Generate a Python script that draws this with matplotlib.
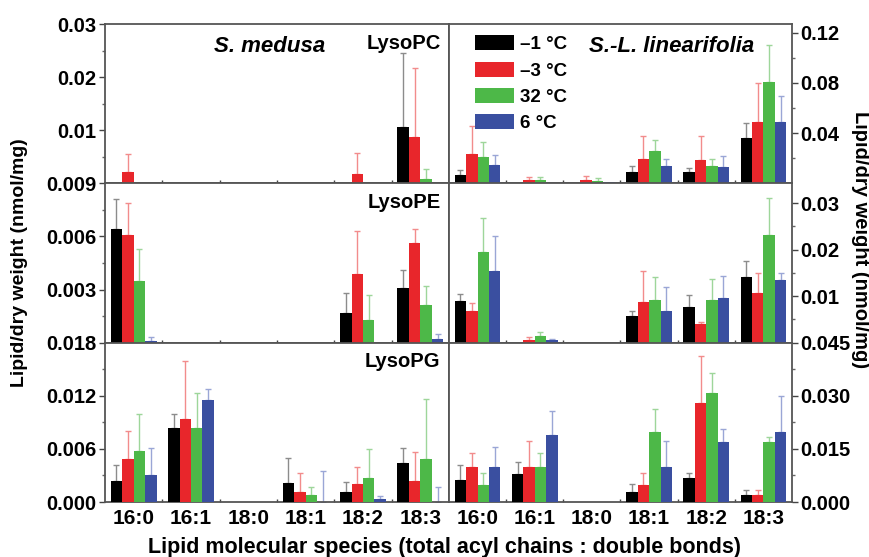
import matplotlib.pyplot as plt
import numpy as np
from matplotlib.patches import Patch

plt.rcParams["font.family"] = ["Liberation Sans", "DejaVu Sans"]
plt.rcParams["font.weight"] = "bold"

SPECIES = ["16:0", "16:1", "18:0", "18:1", "18:2", "18:3"]
TEMPS = ["\u20131 \u00b0C", "\u20133 \u00b0C", "32 \u00b0C", "6 \u00b0C"]
COLORS = ["#000000", "#e8262b", "#4db848", "#3a4fa0"]
ERR_COLORS = ["#8c8c8c", "#f28c8c", "#9ed69a", "#9aa6d6"]

# S. medusa, rows = temperatures (-1, -3, 32, 6), columns = species
medusa_pc = [[0, 0, 0, 0, 0, 0.0106],
             [0.0021, 0, 0, 0, 0.0017, 0.0087],
             [0, 0, 0, 0, 0, 0.0009],
             [0, 0, 0, 0, 0, 0]]
medusa_pc_top = [[0, 0, 0, 0, 0, 0.0245],
                 [0.0055, 0, 0, 0, 0.0057, 0.0217],
                 [0, 0, 0, 0, 0, 0.0026],
                 [0, 0, 0, 0, 0, 0]]
medusa_pe = [[0.0064, 0, 0, 0, 0.0017, 0.0031],
             [0.0061, 0, 0, 0, 0.0039, 0.0056],
             [0.0035, 0, 0, 0, 0.0013, 0.0021],
             [0.0001, 0, 0, 0, 0, 0.0002]]
medusa_pe_top = [[0.0081, 0, 0, 0, 0.0028, 0.0041],
                 [0.0079, 0, 0, 0, 0.0063, 0.0064],
                 [0.0053, 0, 0, 0, 0.0027, 0.0032],
                 [0.0003, 0, 0, 0, 0, 0.0005]]
medusa_pg = [[0.0024, 0.0084, 0, 0.0021, 0.0011, 0.0044],
             [0.0049, 0.0094, 0, 0.0011, 0.0020, 0.0024],
             [0.0058, 0.0084, 0, 0.0008, 0.0027, 0.0049],
             [0.0031, 0.0115, 0, 0, 0.0003, 0]]
medusa_pg_top = [[0.0042, 0.0099, 0, 0.0050, 0.0023, 0.0061],
                 [0.0080, 0.0159, 0, 0.0033, 0.0040, 0.0056],
                 [0.0099, 0.0123, 0, 0.0017, 0.0060, 0.0116],
                 [0.0061, 0.0128, 0, 0.0035, 0.0007, 0.0017]]

# S.-L. linearifolia
linear_pc = [[0.007, 0.0005, 0, 0.009, 0.009, 0.0365],
             [0.023, 0.003, 0.003, 0.0192, 0.0184, 0.049],
             [0.021, 0.003, 0.002, 0.0256, 0.0139, 0.081],
             [0.0144, 0.0005, 0.001, 0.0139, 0.013, 0.049]]
linear_pc_top = [[0.011, 0, 0, 0.0139, 0.0123, 0.0483],
                 [0.0456, 0.005, 0.006, 0.0376, 0.0376, 0.0797],
                 [0.033, 0.005, 0.004, 0.0344, 0.0197, 0.110],
                 [0.0224, 0, 0, 0.0192, 0.0216, 0.0696]]
linear_pe = [[0.0089, 0, 0, 0.0057, 0.0077, 0.0142],
             [0.0067, 0.0006, 0, 0.0088, 0.0040, 0.0106],
             [0.0196, 0.0014, 0, 0.0091, 0.0091, 0.0231],
             [0.0155, 0.0005, 0, 0.0068, 0.0096, 0.0135]]
linear_pe_top = [[0.0104, 0, 0, 0.0068, 0.0103, 0.0176],
                 [0.0086, 0.0013, 0, 0.0154, 0.0044, 0.0150],
                 [0.0268, 0.0023, 0, 0.0142, 0.0137, 0.0312],
                 [0.0230, 0.0008, 0, 0.0120, 0.0143, 0.0150]]
linear_pg = [[0.0063, 0.0079, 0, 0.0027, 0.0069, 0.0019],
             [0.0100, 0.0100, 0, 0.0049, 0.0280, 0.0019],
             [0.0049, 0.0100, 0, 0.0199, 0.0308, 0.0169],
             [0.0100, 0.0189, 0, 0.0100, 0.0169, 0.0199]]
linear_pg_top = [[0.0105, 0.0112, 0, 0.0051, 0.0082, 0.0033],
                 [0.0138, 0.0173, 0, 0.0083, 0.0411, 0.0034],
                 [0.0083, 0.0138, 0, 0.0263, 0.0363, 0.0184],
                 [0.0154, 0.0258, 0, 0.0172, 0.0206, 0.0299]]

W, H = 870, 557
fig = plt.figure(figsize=(W / 100, H / 100), dpi=100)

x_left, x_mid, x_right = 105, 449, 792
y_rows = [24, 183.3, 342.6, 502]


def make_ax(col, row):
    x0 = x_left if col == 0 else x_mid
    x1 = x_mid if col == 0 else x_right
    return fig.add_axes([x0 / W, 1 - y_rows[row + 1] / H,
                         (x1 - x0) / W, (y_rows[row + 1] - y_rows[row]) / H])


def draw_panel(ax, vals, tops, ylim, ticks, labels, minors, side):
    x = np.arange(len(SPECIES)) + 0.5
    width = 0.2
    for i in range(4):
        v = np.array(vals[i])
        t = np.array(tops[i])
        pos = x + (i - 1.5) * width
        ax.bar(pos, v, width, color=COLORS[i], zorder=3)
        err = np.clip(t - v, 0, None)
        m = t > 0
        ax.errorbar(pos[m], v[m], yerr=[np.zeros(m.sum()), err[m]],
                    fmt="none", ecolor=ERR_COLORS[i], elinewidth=1,
                    capsize=2, capthick=1, zorder=2)
    ax.set_xlim(0, 6)
    ax.set_ylim(*ylim)
    ax.set_xticks(np.arange(1, 6))
    ax.set_xticklabels([])
    ax.tick_params(axis="x", which="major", direction="in", length=2,
                   width=1, color="#444444")
    ax.set_yticks(ticks)
    ax.set_yticklabels(labels)
    ax.set_yticks(minors, minor=True)
    if side == "right":
        ax.yaxis.tick_right()
        ax.yaxis.set_ticks_position("right")
    ax.tick_params(axis="y", which="major", direction="out", length=4,
                   width=1, labelsize=14.5, color="#444444", pad=2)
    ax.tick_params(axis="y", which="minor", direction="out", length=2,
                   width=1, color="#666666")
    for s in ax.spines.values():
        s.set_color("#555555")
        s.set_linewidth(1.3)


panels = [
    (0, 0, medusa_pc, medusa_pc_top, (0, 0.03), [0.01, 0.02, 0.03],
     ["0.01", "0.02", "0.03"], [0.005, 0.015, 0.025]),
    (0, 1, medusa_pe, medusa_pe_top, (0, 0.009), [0.003, 0.006, 0.009],
     ["0.003", "0.006", "0.009"], [0.0015, 0.0045, 0.0075]),
    (0, 2, medusa_pg, medusa_pg_top, (0, 0.018), [0, 0.006, 0.012, 0.018],
     ["0.000", "0.006", "0.012", "0.018"], [0.003, 0.009, 0.015]),
    (1, 0, linear_pc, linear_pc_top, (0, 0.127), [0.04, 0.08, 0.12],
     ["0.04", "0.08", "0.12"], [0.02, 0.06, 0.10]),
    (1, 1, linear_pe, linear_pe_top, (0, 0.0343), [0.01, 0.02, 0.03],
     ["0.01", "0.02", "0.03"], [0.005, 0.015, 0.025]),
    (1, 2, linear_pg, linear_pg_top, (0, 0.045), [0, 0.015, 0.030, 0.045],
     ["0.000", "0.015", "0.030", "0.045"], [0.0075, 0.0225, 0.0375]),
]

axes = {}
for col, row, vals, tops, ylim, ticks, labels, minors in panels:
    ax = make_ax(col, row)
    draw_panel(ax, vals, tops, ylim, ticks, labels, minors,
               "left" if col == 0 else "right")
    axes[(col, row)] = ax

for col in (0, 1):
    ax = axes[(col, 2)]
    ax.set_xticks(np.arange(len(SPECIES)) + 0.5, minor=True)
    ax.set_xticklabels(SPECIES, minor=True, fontsize=15)
    ax.tick_params(axis="x", which="minor", length=0, pad=5)

for row, name in enumerate(["LysoPC", "LysoPE", "LysoPG"]):
    axes[(0, row)].text(0.975, 0.94, name, transform=axes[(0, row)].transAxes,
                        ha="right", va="top", fontsize=14.5)

axes[(0, 0)].text(0.48, 0.86, "S. medusa", transform=axes[(0, 0)].transAxes,
                  ha="center", va="center", fontsize=16, style="italic")
axes[(1, 0)].text(0.65, 0.86, "S.-L. linearifolia", transform=axes[(1, 0)].transAxes,
                  ha="center", va="center", fontsize=16, style="italic")

handles = [Patch(facecolor=c, edgecolor="none") for c in COLORS]
axes[(1, 0)].legend(handles, TEMPS, loc="upper left", bbox_to_anchor=(0.076, 0.93),
                    frameon=False, fontsize=13.5, handlelength=2.1,
                    handleheight=0.85, handletextpad=0.3, labelspacing=0.45,
                    borderpad=0, borderaxespad=0)

fig.text(20 / W, 1 - 263 / H, "Lipid/dry weight (nmol/mg)", rotation=90,
         ha="center", va="center", fontsize=14)
fig.text(861 / W, 1 - 240 / H, "Lipid/dry weight (nmol/mg)", rotation=270,
         ha="center", va="center", fontsize=14.5)
fig.text(445 / W, 1 - 547 / H,
         "Lipid molecular species (total acyl chains : double bonds)",
         ha="center", va="center", fontsize=15.5)

fig.savefig("out.png", dpi=100)
